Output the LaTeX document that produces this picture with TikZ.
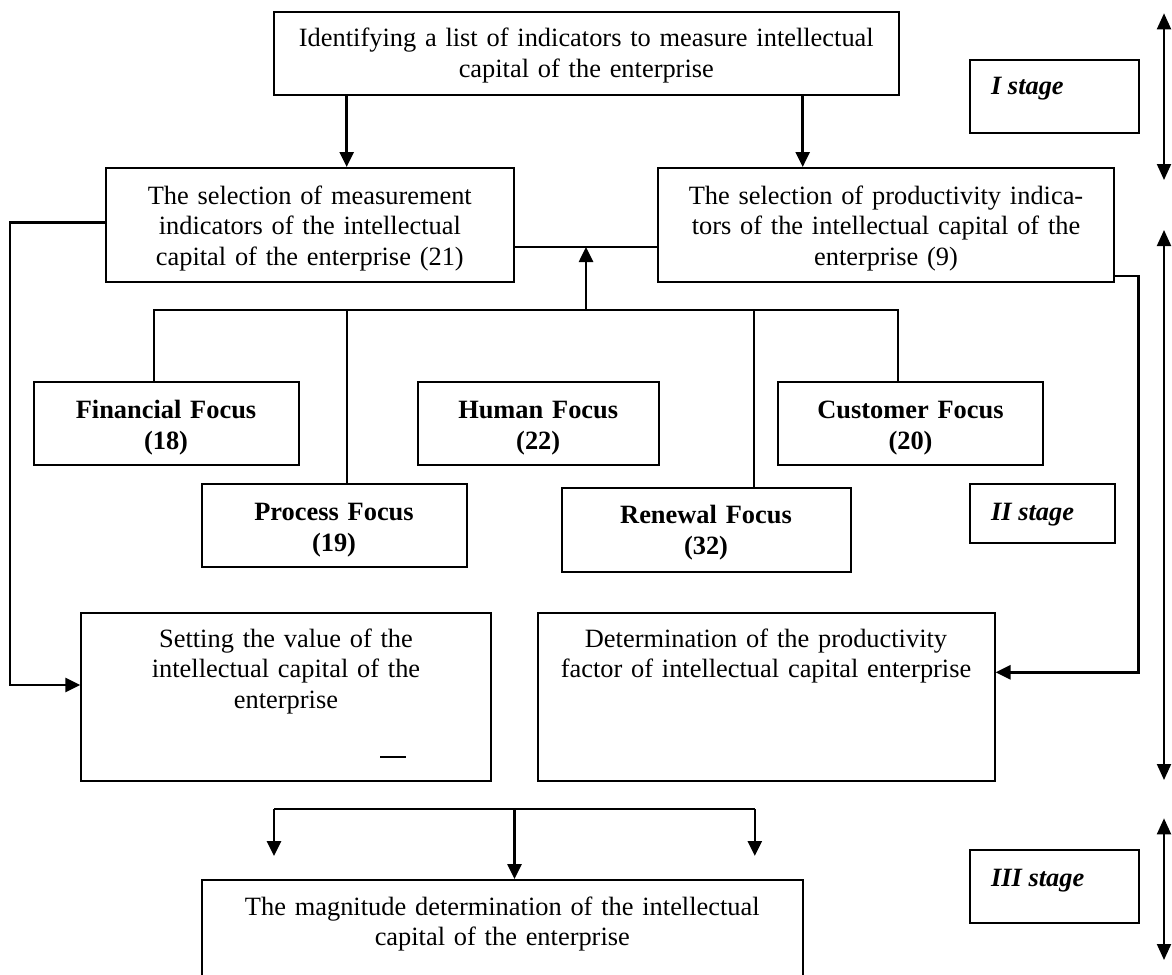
\documentclass[tikz,border=0pt]{standalone}
\usepackage{fontspec}
\setmainfont{Liberation Serif}
\usetikzlibrary{arrows.meta,fit}
\begin{document}
\begin{tikzpicture}[x=0.5pt,y=-0.5pt,
  box/.style={draw, line width=1pt, inner sep=0pt},
  lbl/.style={inner sep=0pt, align=center, anchor=base,
    font=\fontsize{13.2pt}{15.25pt}\selectfont},
  blbl/.style={lbl, font=\fontsize{13.2pt}{15.5pt}\selectfont\bfseries},
  slbl/.style={inner sep=0pt, anchor=base west,
    font=\fontsize{13.2pt}{15.25pt}\selectfont\bfseries\itshape},
  conn/.style={line width=1pt},
  arr/.style={line width=1.3pt, -{Triangle[length=7.5pt,width=7pt]}},
  darr/.style={line width=1pt,
    {Triangle[length=8pt,width=7pt]}-{Triangle[length=8pt,width=7pt]}}]

\useasboundingbox (0,0) rectangle (1172,974);
\clip (0,0) rectangle (1172,974);

% ---------- stage I ----------
\node[box, fit={(273.6,12) (899,95)}] (top) {};
\node[lbl, text width=305pt] (topT) at (586.3,46.7)
  {Identifying a list of indicators to measure intellectual\\capital of the enterprise};

\node[box, fit={(105.6,168) (514,282)}] (M) {};
\node[lbl, text width=200pt] (MT) at (309.8,204)
  {The selection of measurement\\indicators of the intellectual\\capital of the enterprise (21)};

\node[box, fit={(658,168) (1114,282)}] (P) {};
\node[lbl, text width=222pt] (PT) at (886,204)
  {The selection of productivity indica-\\tors of the intellectual capital of the\\enterprise (9)};

% ---------- focus boxes ----------
\node[box, fit={(33.7,382) (298.5,465)}] (fin) {};
\node[blbl, text width=130pt] (finT) at (166,418) {Financial Focus\\(18)};

\node[box, fit={(418,382) (658.5,465)}] (hum) {};
\node[blbl, text width=118pt] (humT) at (538.2,418) {Human Focus\\(22)};

\node[box, fit={(778,382) (1043,465)}] (cus) {};
\node[blbl, text width=130pt] (cusT) at (910.5,418) {Customer Focus\\(20)};

\node[box, fit={(201.7,484) (466.5,567)}] (pro) {};
\node[blbl, text width=130pt] (proT) at (334,520) {Process Focus\\(19)};

\node[box, fit={(561.8,488) (850.7,572)}] (ren) {};
\node[blbl, text width=140pt] (renT) at (706,523) {Renewal Focus\\(32)};

% ---------- stage labels ----------
\node[box, fit={(969.6,60) (1138.7,132.7)}] (st1) {};
\node[slbl] (st1T) at (990.7,95) {I stage};
\node[box, fit={(969.6,484.3) (1114.5,543.3)}] (st2) {};
\node[slbl] (st2T) at (990.7,520) {II stage};
\node[box, fit={(969.6,850) (1138.7,923.3)}] (st3) {};
\node[slbl] (st3T) at (990.7,886.7) {III stage};

% ---------- value and productivity ----------
\node[box, fit={(81.3,613) (491,781)}] (set) {};
\node[lbl, text width=200pt] (setT) at (286,647)
  {Setting the value of the\\intellectual capital of the\\enterprise};
\draw[conn] (380,757) -- (405.7,757);

\node[box, fit={(537.7,613) (994.5,781)}] (det) {};
\node[lbl, text width=222pt] (detT) at (766,647)
  {Determination of the productivity\\factor of intellectual capital enterprise};

% ---------- stage III ----------
\node[box, fit={(201.8,880) (802.7,990)}] (mag) {};
\node[lbl, text width=295pt] (magT) at (502.3,915)
  {The magnitude determination of the intellectual\\capital of the enterprise};

% ---------- helper coordinates ----------
\coordinate (a1) at (346.7,0);
\coordinate (a2) at (802.7,0);
\coordinate (jy) at (0,247);
\coordinate (bus) at (0,310);
\coordinate (ax) at (586,0);
\coordinate (d1) at (154,0);
\coordinate (d2) at (346.7,0);
\coordinate (d3) at (754,0);
\coordinate (d4) at (898,0);
\coordinate (l1) at (0,222.3);
\coordinate (l2) at (0,685);
\coordinate (lx) at (10,0);
\coordinate (r1) at (0,276);
\coordinate (r2) at (0,672.3);
\coordinate (rx) at (1138.7,0);
\coordinate (bb) at (0,809);
\coordinate (ah) at (0,856);
\coordinate (b1) at (274,0);
\coordinate (bm) at (514.5,0);
\coordinate (b3) at (754.8,0);
\coordinate (s1a) at (1164,13.3);
\coordinate (s1b) at (1164,180);
\coordinate (s2a) at (1164,230);
\coordinate (s2b) at (1164,780);
\coordinate (s3a) at (1164,818.3);
\coordinate (s3b) at (1164,960);

% ---------- connectors ----------
\draw[arr] (a1 |- top.south) -- (a1 |- M.north);
\draw[arr] (a2 |- top.south) -- (a2 |- P.north);
\draw[conn] (M.east |- jy) -- (P.west |- jy);

\draw[conn] (d1 |- fin.north) |- (d4 |- bus) -- (d4 |- cus.north);
\draw[conn] (d2 |- bus) -- (d2 |- pro.north);
\draw[conn] (d3 |- bus) -- (d3 |- ren.north);
\draw[arr] (ax |- bus) -- (ax |- jy);

\draw[arr] (M.west |- l1) -| (lx |- l2) -- (set.west |- l2);
\draw[arr] (P.east |- r1) -| (rx |- r2) -- (det.east |- r2);

\draw[conn] (b1 |- bb) -- (b3 |- bb);
\draw[arr] (b1 |- bb) -- (b1 |- ah);
\draw[arr] (bm |- bb) -- (bm |- mag.north);
\draw[arr] (b3 |- bb) -- (b3 |- ah);

% ---------- stage extents ----------
\draw[darr] (s1a) -- (s1b);
\draw[darr] (s2a) -- (s2b);
\draw[darr] (s3a) -- (s3b);
\end{tikzpicture}
\end{document}
